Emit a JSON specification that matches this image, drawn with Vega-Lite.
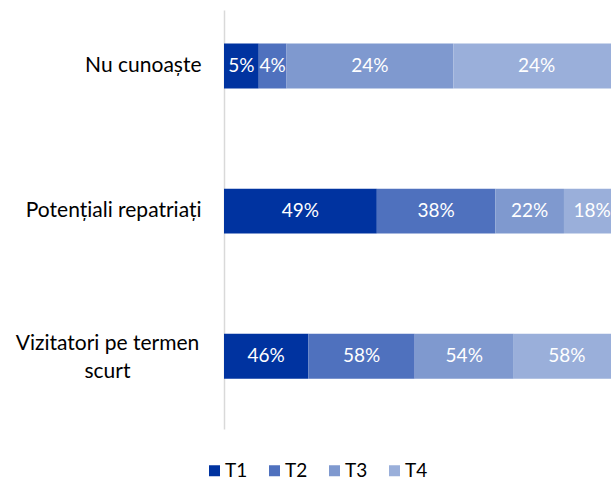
{
  "$schema": "https://vega.github.io/schema/vega-lite/v6.json",
  "width": 387,
  "height": 419,
  "autosize": {"type": "none"},
  "padding": {"left": 224, "top": 10, "right": 0, "bottom": 50},
  "background": "white",
  "config": {"view": {"stroke": null}, "font": "Lato"},
  "data": {
    "values": [
      {"category": "Nu cunoaște", "series": "T1", "order": 1, "value": 5},
      {"category": "Nu cunoaște", "series": "T2", "order": 2, "value": 4},
      {"category": "Nu cunoaște", "series": "T3", "order": 3, "value": 24},
      {"category": "Nu cunoaște", "series": "T4", "order": 4, "value": 24},
      {"category": "Potențiali repatriați", "series": "T1", "order": 1, "value": 49},
      {"category": "Potențiali repatriați", "series": "T2", "order": 2, "value": 38},
      {"category": "Potențiali repatriați", "series": "T3", "order": 3, "value": 22},
      {"category": "Potențiali repatriați", "series": "T4", "order": 4, "value": 18},
      {"category": "Vizitatori pe termen scurt", "series": "T1", "order": 1, "value": 46},
      {"category": "Vizitatori pe termen scurt", "series": "T2", "order": 2, "value": 58},
      {"category": "Vizitatori pe termen scurt", "series": "T3", "order": 3, "value": 54},
      {"category": "Vizitatori pe termen scurt", "series": "T4", "order": 4, "value": 58}
    ]
  },
  "transform": [
    {"stack": "value", "groupby": ["category"], "sort": [{"field": "order"}], "offset": "normalize", "as": ["x0", "x1"]},
    {"calculate": "(datum.x0 + datum.x1) / 2", "as": "mid"},
    {"calculate": "datum.value + '%'", "as": "label"}
  ],
  "encoding": {
    "y": {
      "field": "category",
      "type": "nominal",
      "sort": ["Nu cunoaște", "Potențiali repatriați", "Vizitatori pe termen scurt"],
      "scale": {"paddingInner": 0.691, "paddingOuter": 0.289, "align": 0.4},
      "axis": {
        "title": null,
        "ticks": false,
        "grid": false,
        "domainColor": "#d9d9d9",
        "domainWidth": 1.5,
        "labelFont": "Lato",
        "labelFontSize": 21,
        "labelColor": "#000000",
        "labelLineHeight": 28,
        "labelLimit": 300,
        "labelExpr": "datum.value == 'Vizitatori pe termen scurt' ? ['Vizitatori pe termen', 'scurt'] : datum.value",
        "labelAlign": {"condition": {"test": "datum.value == 'Vizitatori pe termen scurt'", "value": "center"}, "value": "right"},
        "labelPadding": {"condition": {"test": "datum.value == 'Vizitatori pe termen scurt'", "value": 117}, "value": 23},
        "labelOffset": {"condition": {"test": "datum.value == 'Vizitatori pe termen scurt'", "value": -12}, "value": 0}
      }
    }
  },
  "layer": [
    {
      "mark": {"type": "bar", "clip": true},
      "encoding": {
        "x": {"field": "x0", "type": "quantitative", "scale": {"domain": [0, 0.977], "nice": false, "zero": true}, "axis": null},
        "x2": {"field": "x1"},
        "color": {
          "field": "series",
          "type": "nominal",
          "scale": {"domain": ["T1", "T2", "T3", "T4"], "range": ["#0033a0", "#4f71be", "#7f99cf", "#9aafda"]},
          "legend": {
            "title": null,
            "orient": "none",
            "direction": "horizontal",
            "legendX": -19,
            "legendY": 451,
            "symbolType": "square",
            "symbolSize": 121,
            "symbolStrokeWidth": 0,
            "labelFont": "Lato",
            "labelFontSize": 19,
            "labelColor": "#000000",
            "labelOffset": 1,
            "columnPadding": 17
          }
        }
      }
    },
    {
      "mark": {"type": "text", "color": "white", "font": "Lato", "fontSize": 19, "align": "center", "baseline": "middle"},
      "encoding": {
        "x": {"field": "mid", "type": "quantitative"},
        "text": {"field": "label", "type": "nominal"},
        "detail": {"field": "series"}
      }
    }
  ]
}
